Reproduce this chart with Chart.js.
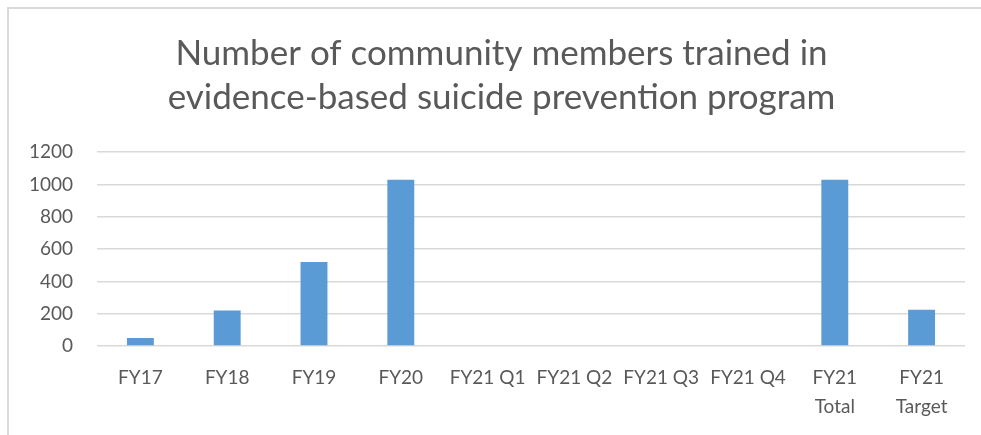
<!DOCTYPE html>
<html>
<head>
<meta charset="utf-8">
<script src="https://cdn.jsdelivr.net/npm/chart.js@4/dist/chart.umd.min.js"></script>
<style>
    html, body { margin: 0; padding: 0; background: #fff; overflow: hidden; }
    #frame {
        position: absolute; left: 7px; top: 7px; width: 1000px; height: 500px;
        border-top: 2px solid #d9d9d9; border-left: 2px solid #d9d9d9;
    }
    #wrap { position: absolute; left: 0; top: 0; width: 981px; height: 435px; }
</style>
</head>
<body>
<div id="frame"></div>
<div id="wrap"><canvas id="dataChart"></canvas></div>
<script>
// Chart data
const categories = ['FY17', 'FY18', 'FY19', 'FY20', 'FY21 Q1', 'FY21 Q2', 'FY21 Q3', 'FY21 Q4', ['FY21', 'Total'], ['FY21', 'Target']];
const trained = [50, 220, 520, 1030, 0, 0, 0, 0, 1030, 225];
const yTicks = [0, 200, 400, 600, 800, 1000, 1200];
const titleLines = ['Number of community members trained in', 'evidence-based suicide prevention program'];

const FONT = 'Lato, "Open Sans", sans-serif';
const GREY = '#595959';

// the original title is centred on the whole frame, a bit right of the plot
const shiftTitle = {
    id: 'shiftTitle',
    afterLayout: function(chart) {
        if (chart.titleBlock) {
            chart.titleBlock.left = 38;
        }
    }
};

const ctx = document.getElementById('dataChart');
new Chart(ctx, {
    type: 'bar',
    data: {
        labels: categories,
        datasets: [{
            label: 'Trained',
            data: trained,
            backgroundColor: '#5b9bd5',
            barPercentage: 0.31,
            categoryPercentage: 1.0
        }]
    },
    options: {
        responsive: true,
        maintainAspectRatio: false,
        animation: false,
        layout: { padding: { top: 7, right: 16, bottom: 0, left: 0 } },
        plugins: {
            legend: { display: false },
            tooltip: { enabled: false },
            title: {
                display: true,
                text: titleLines,
                color: GREY,
                font: { family: FONT, size: 35, weight: 'normal', lineHeight: 1.26 },
                padding: { top: 25, bottom: 32 }
            }
        },
        scales: {
            x: {
                grid: { display: false, drawTicks: false },
                border: { display: false },
                ticks: {
                    color: GREY,
                    font: { family: FONT, size: 19, lineHeight: 1.5 },
                    maxRotation: 0,
                    autoSkip: false,
                    padding: 18
                },
                afterFit: function(scale) { scale.height = 89; }
            },
            y: {
                min: 0,
                max: 1200,
                afterBuildTicks: function(scale) {
                    scale.ticks = yTicks.map(v => ({ value: v }));
                },
                grid: { color: '#d9d9d9', lineWidth: 1.5, drawTicks: false },
                border: { display: false },
                ticks: {
                    color: GREY,
                    font: { family: FONT, size: 19 },
                    padding: 24,
                    callback: function(value) { return String(value); }
                },
                afterFit: function(scale) { scale.width = 97; }
            }
        }
    },
    plugins: [shiftTitle]
});
</script>
</body>
</html>
